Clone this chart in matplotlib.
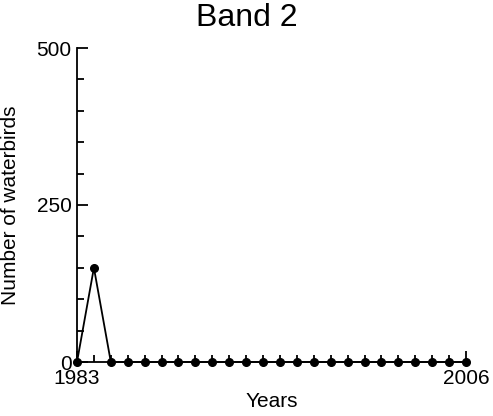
import matplotlib
matplotlib.use("Agg")
import matplotlib.pyplot as plt
from matplotlib.ticker import MultipleLocator

years = list(range(1983, 2007))
counts = [0, 150] + [0] * 22
x_ticks = [1983, 2006]
y_ticks = [0, 250, 500]

plt.rcParams['font.family'] = ['Liberation Sans', 'DejaVu Sans']

fig = plt.figure(figsize=(4.93, 4.16), dpi=100)
ax = fig.add_axes([77/493, 1 - 362/416, (466 - 77)/493, (362 - 48)/416])

ax.plot(years, counts, color='black', lw=1.3, marker='o', ms=5.5,
        clip_on=False, zorder=3)

ax.set_xlim(1983, 2006)
ax.set_ylim(0, 500)
ax.set_xticks(x_ticks)
ax.set_yticks(y_ticks)
ax.xaxis.set_minor_locator(MultipleLocator(1))
ax.yaxis.set_minor_locator(MultipleLocator(50))

for s in ['top', 'right']:
    ax.spines[s].set_visible(False)
for s in ['left', 'bottom']:
    ax.spines[s].set_linewidth(1.3)

ax.tick_params(which='both', direction='in', width=1.3, labelsize=15)
ax.tick_params(axis='x', which='major', pad=5)
ax.tick_params(axis='y', which='major', pad=4)
ax.tick_params(which='major', length=8)
ax.tick_params(which='minor', length=5)

fig.text(0.5, 1 - 18/416, 'Band 2', fontsize=23, ha='center', va='center')
ax.set_xlabel('Years', fontsize=15, labelpad=3)
ax.set_ylabel('Number of waterbirds', fontsize=15, labelpad=12)

fig.savefig('out.png', dpi=100)
